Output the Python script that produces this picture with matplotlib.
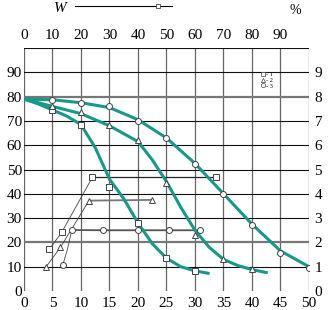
import matplotlib
matplotlib.use("Agg")
import matplotlib.pyplot as plt
from matplotlib.lines import Line2D

plt.rcParams["font.family"] = ["Liberation Serif", "DejaVu Serif"]

teal = "#15998a"
ink = "#444444"

# smooth decreasing curves
curve1_x = [0, 2.5, 5, 7.5, 10, 12.5, 15, 17.5, 20, 22.5, 25, 27.5, 30, 32.3]
curve1_y = [79, 77, 74.5, 72, 68.5, 59, 46, 38, 28, 19.5, 13.5, 10, 8.3, 7.3]
curve2_x = [0, 5, 10, 15, 20, 22.5, 25, 27.5, 30, 32.5, 35, 37.5, 40, 42.5]
curve2_y = [79, 76, 73, 68, 61.5, 54, 45, 34.5, 25, 18, 13, 10.5, 8.8, 7.6]
curve3_x = [0, 5, 10, 15, 20, 25, 30, 35, 40, 45, 50]
curve3_y = [79, 78.7, 77.5, 75.5, 70.5, 63, 52.5, 40, 27.5, 16.5, 10]

# measured points on the curves
sq_x = [5, 10, 15, 20, 25, 30]
sq_y = [74.5, 68.5, 43, 28, 13.5, 8.3]
tri_x = [5, 10, 15, 20, 25, 30, 35, 40]
tri_y = [76, 73.8, 68.3, 62, 44.5, 23, 13, 8.9]
circ_x = [5, 10, 15, 20, 25, 30, 35, 40, 45, 50]
circ_y = [78.7, 77.5, 76, 70, 62.8, 52.1, 40, 27.2, 15.5, 9.6]

# rising thin curves and plateaus (W)
w1_x = [4.45, 6.6, 12, 33.7]
w1_y = [17.2, 24.1, 46.8, 46.8]
w2_x = [3.8, 6.4, 11.4, 22.4]
w2_y = [9.7, 18, 37.2, 37.5]
w3_x = [6.8, 7.6, 8.4, 13.9, 20, 25.4, 30.9]
w3_y = [10.7, 17, 25.1, 25, 25, 25, 25]
w3_mark = [0, 2, 3, 4, 5, 6]

bottom_ticks = [0, 5, 10, 15, 20, 25, 30, 35, 40, 45, 50]
top_labels = ["0", "10", "20", "30", "40", "50", "60", "70", "80", "90"]
left_ticks = [0, 10, 20, 30, 40, 50, 60, 70, 80, 90]
right_labels = ["0", "1", "2", "3", "4", "5", "6", "7", "8", "9"]

fig = plt.figure(figsize=(3.31, 3.10), dpi=100)
ax = fig.add_axes([0.0725, 0.0613, 0.861, 0.7837])
ax.set_xlim(0, 50)
ax.set_ylim(0, 100)

# grid
for gx in bottom_ticks:
    ax.axvline(gx, color="#666666", lw=0.9, zorder=1)
for gy in [10, 30, 40, 50, 60, 70, 90, 100]:
    ax.axhline(gy, color="#111111", lw=0.8, zorder=1)
for gy in [20, 80]:
    ax.axhline(gy, color="#777777", lw=1.6, zorder=1)
for s in ax.spines.values():
    s.set_visible(False)

mk = dict(ms=4.3, mfc="white", mec=ink, mew=0.7, ls="none", zorder=4)

ax.plot(curve1_x, curve1_y, color=teal, lw=2.2, zorder=3)
ax.plot(curve2_x, curve2_y, color=teal, lw=2.2, zorder=3)
ax.plot(curve3_x, curve3_y, color=teal, lw=2.2, zorder=3)
ax.plot(sq_x, sq_y, marker="s", **mk)
ax.plot(tri_x, tri_y, marker="^", **mk)
ax.plot(circ_x, circ_y, marker="o", **mk)

ax.plot(w1_x[:3], w1_y[:3], color=ink, lw=0.6, zorder=2)
ax.plot(w1_x[2:], w1_y[2:], color="#222222", lw=0.9, zorder=2)
ax.plot(w1_x, w1_y, marker="s", **mk)
ax.plot(w2_x[:3], w2_y[:3], color=ink, lw=0.6, zorder=2)
ax.plot(w2_x[2:], w2_y[2:], color="#777777", lw=1.3, zorder=2)
ax.plot(w2_x, w2_y, marker="^", **mk)
ax.plot(w3_x[:3], w3_y[:3], color=ink, lw=0.6, zorder=2)
ax.plot(w3_x[2:], w3_y[2:], color="#555555", lw=1.3, zorder=2)
ax.plot([w3_x[i] for i in w3_mark], [w3_y[i] for i in w3_mark], marker="o", **mk)

# ticks
ax.set_xticks(bottom_ticks)
ax.set_yticks(left_ticks)
ax.tick_params(axis="both", length=0, labelsize=11, colors="black")
ax.tick_params(axis="x", pad=4.5)
ax.tick_params(axis="y", pad=1.5)

top = ax.secondary_xaxis("top", functions=(lambda v: v * 2, lambda v: v / 2))
top.set_xticks([int(t) for t in top_labels])
top.set_xticklabels(top_labels)
top.tick_params(length=0, labelsize=11, pad=4)
top.spines["top"].set_visible(False)

right = ax.secondary_yaxis("right", functions=(lambda v: v / 10, lambda v: v * 10))
right.set_yticks(list(range(10)))
right.set_yticklabels(right_labels)
right.tick_params(length=0, labelsize=11, pad=4)
right.spines["right"].set_visible(False)

# legend
handles = [Line2D([], [], marker=m, ms=3, mfc="white", mec=ink, mew=0.5, ls="none")
           for m in ["s", "^", "o"]]
ax.legend(handles, ["- 1", "- 2", "- 3"], loc="upper left",
          bbox_to_anchor=(0.82, 0.915), frameon=False, fontsize=4.5,
          handlelength=0.6, handletextpad=0.3, labelspacing=0.05,
          borderpad=0)

# header
fig.text(60 / 331, 1 - 9 / 310, "W", fontsize=11, style="italic",
         ha="center", va="center")
fig.add_artist(Line2D([75 / 331, 172 / 331], [1 - 6 / 310, 1 - 6 / 310],
                      color="black", lw=0.8))
fig.add_artist(Line2D([158 / 331], [1 - 6 / 310], marker="s", ms=3,
                      mfc="white", mec=ink, mew=0.6))
fig.text(295 / 331, 1 - 10 / 310, "%", fontsize=10, ha="center", va="center")

fig.savefig("out.png", dpi=100)
